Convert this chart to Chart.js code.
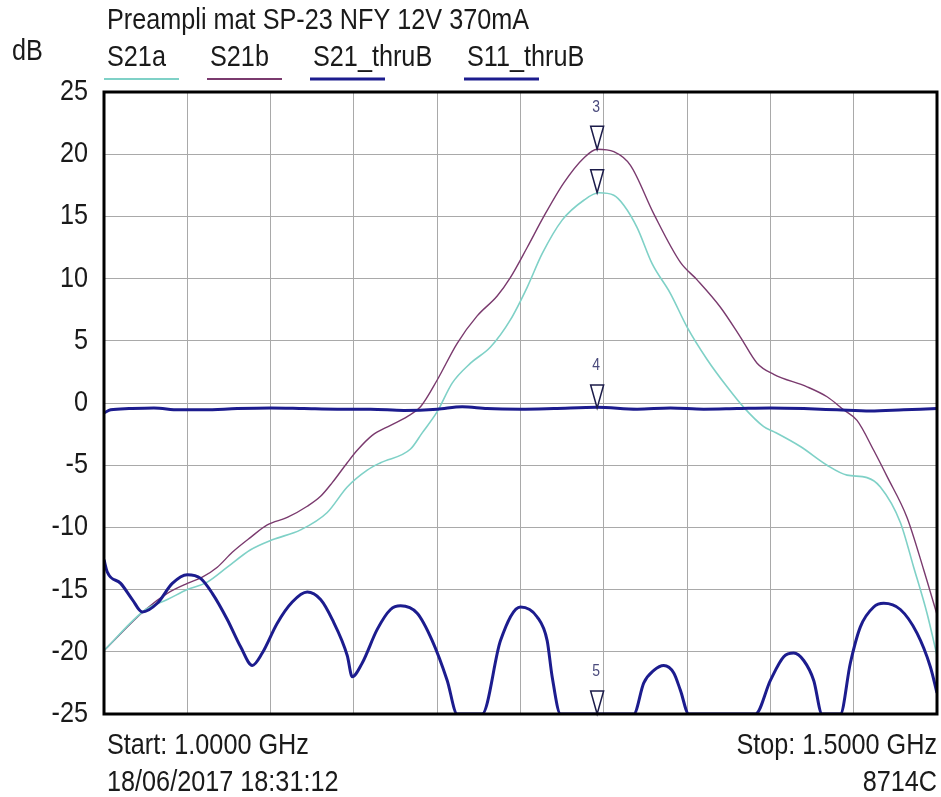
<!DOCTYPE html>
<html lang="en">
<head>
<meta charset="UTF-8">
<title>Preampli mat SP-23 NFY 12V 370mA</title>
<script src="https://cdn.jsdelivr.net/npm/chart.js"></script>
<style>
    body { margin: 0; background: #fff; }
    #wrap { width: 941px; height: 797px; }
</style>
</head>
<body>
<div id="wrap"><canvas id="vna" width="941" height="797"></canvas></div>
<script>
// frequencies in MHz, levels in dB
const freqA = [1000,1025,1038,1050,1062,1074,1088,1101,1118,1134,1146,1158,1166,1184,1191,1200,1209,1220,1232,1244,1254,1263,1275,1288,1297,1306,1312,1320,1329,1340,1350,1362,1374,1384,1396,1402,1418,1434,1446,1458,1466,1478,1486,1494,1500];
const s21a = [-19.9,-16.6,-15.8,-15.0,-14.4,-13.2,-11.8,-11.0,-10.2,-8.8,-6.75,-5.4,-4.8,-3.7,-2.4,-0.7,1.6,3.2,4.5,6.7,9.3,12.0,14.7,16.3,16.9,16.7,15.9,14.1,11.2,8.8,6.1,3.5,1.3,-0.35,-1.9,-2.3,-3.5,-5.0,-5.8,-6.0,-6.75,-9.6,-13.2,-16.9,-20.3];

const freqB = [1000,1025,1038,1050,1059,1068,1077,1088,1098,1110,1122,1130,1137,1146,1152,1161,1172,1182,1190,1200,1212,1224,1236,1244,1254,1264,1276,1288,1296,1306,1316,1330,1346,1356,1370,1382,1392,1402,1422,1434,1444,1452,1462,1470,1482,1492,1500];
const s21b = [-19.9,-16.6,-15.3,-14.5,-14.0,-13.2,-12.0,-10.8,-9.8,-9.2,-8.3,-7.5,-6.4,-4.8,-3.8,-2.6,-1.8,-1.1,-0.3,1.85,4.8,7.0,8.6,10.1,12.5,15.0,17.7,19.7,20.4,20.2,19.1,15.2,11.3,9.9,7.7,5.3,3.2,2.3,1.3,0.5,-0.55,-1.4,-3.8,-5.9,-9.2,-13.4,-17.0];

const freqT = [1000,1004,1015,1030,1045,1060,1080,1100,1120,1140,1160,1180,1200,1215,1230,1250,1270,1296,1320,1340,1360,1380,1400,1420,1440,1460,1480,1500];
const s21thru = [-0.8,-0.55,-0.45,-0.4,-0.55,-0.55,-0.45,-0.4,-0.45,-0.5,-0.5,-0.6,-0.5,-0.3,-0.45,-0.5,-0.45,-0.35,-0.5,-0.4,-0.5,-0.45,-0.4,-0.45,-0.55,-0.65,-0.55,-0.45];

const freq11 = [1000,1002,1010,1017,1023,1032,1041,1050,1058,1065,1074,1082,1089,1095,1104,1113,1122,1130,1137,1146,1149,1155,1164,1172,1178,1188,1197,1206,1212,1227,1238,1250,1260,1266,1269,1274,1318,1324,1330,1336,1342,1346,1351,1391,1400,1408,1414,1420,1426,1431,1442,1448,1454,1462,1468,1478,1488,1496,1500];
const s11thru = [-12.6,-13.6,-14.5,-15.8,-16.8,-16.1,-14.5,-13.8,-14.1,-15.3,-17.4,-19.6,-21.1,-20.1,-17.7,-16.0,-15.2,-15.8,-17.4,-20.3,-22.0,-20.9,-18.2,-16.6,-16.3,-16.9,-19.1,-22.3,-25,-25,-19.1,-16.4,-17.2,-19.1,-22.0,-25,-25,-22.5,-21.5,-21.1,-21.7,-23.1,-25,-25,-22.3,-20.4,-20.1,-20.7,-22.3,-25,-25,-20.9,-18.0,-16.4,-16.1,-16.6,-18.5,-21.2,-23.3];

const markerFreq = [1296, 1296, 1296, 1296];
const markerValues = [20.4, 16.9, -0.4, -25];
const markerLabels = ['3', '', '4', '5'];

const yTickValues = [25, 20, 15, 10, 5, 0, -5, -10, -15, -20, -25];

const titleText = 'Preampli mat SP-23 NFY 12V 370mA';
const footer = ['Start: 1.0000 GHz', 'Stop: 1.5000 GHz', '18/06/2017 18:31:12', '8714C'];

function pts(xs, ys) {
    return xs.map((x, i) => ({ x: x, y: ys[i] }));
}

// narrow looking text, like the analyser software
function txt(ctx, s, x, y, align, size, color) {
    ctx.save();
    ctx.font = size + 'px "Liberation Sans", Arial, sans-serif';
    ctx.fillStyle = color || '#1a1a1a';
    ctx.textAlign = align;
    ctx.textBaseline = 'middle';
    ctx.translate(x, y);
    ctx.scale(0.87, 1);
    ctx.fillText(s, 0, 0);
    ctx.restore();
}

const decor = {
    id: 'decor',
    afterDatasetsDraw(chart) {
        const ctx = chart.ctx, a = chart.chartArea;
        const xs = chart.scales.x, ys = chart.scales.y;

        // markers
        markerFreq.forEach((f, i) => {
            const px = xs.getPixelForValue(f);
            const py = Math.min(ys.getPixelForValue(markerValues[i]), a.bottom);
            ctx.save();
            ctx.beginPath();
            ctx.moveTo(px, py);
            ctx.lineTo(px - 6.5, py - 23);
            ctx.lineTo(px + 6.5, py - 23);
            ctx.closePath();
            ctx.fillStyle = '#fff';
            ctx.fill();
            ctx.lineWidth = 1.5;
            ctx.strokeStyle = '#1c1c4a';
            ctx.stroke();
            ctx.restore();
            if (markerLabels[i]) txt(ctx, markerLabels[i], px - 1, py - 42, 'center', 16, '#4a4a7c');
        });

        // frame
        ctx.save();
        ctx.lineWidth = 3;
        ctx.strokeStyle = '#000';
        ctx.strokeRect(a.left, a.top, a.right - a.left, a.bottom - a.top);
        ctx.restore();
    },
    afterDraw(chart) {
        const ctx = chart.ctx, a = chart.chartArea;
        const ys = chart.scales.y;

        yTickValues.forEach(v => {
            txt(ctx, String(v), 88, ys.getPixelForValue(v), 'right', 29);
        });

        txt(ctx, titleText, 107, 21, 'left', 29);
        txt(ctx, 'dB', 12, 52, 'left', 29);

        // legend: name above a coloured line
        const legX = [107, 210, 313, 467];
        chart.data.datasets.forEach((ds, i) => {
            txt(ctx, ds.label, legX[i], 58, 'left', 29);
            ctx.save();
            ctx.strokeStyle = ds.borderColor;
            ctx.lineWidth = ds.borderWidth > 2 ? 3 : 2;
            ctx.beginPath();
            ctx.moveTo(legX[i] - 3, 79);
            ctx.lineTo(legX[i] + 72, 79);
            ctx.stroke();
            ctx.restore();
        });

        txt(ctx, footer[0], 107, 746, 'left', 29);
        txt(ctx, footer[1], a.right, 746, 'right', 29);
        txt(ctx, footer[2], 107, 783, 'left', 29);
        txt(ctx, footer[3], a.right, 783, 'right', 29);
    }
};

new Chart(document.getElementById('vna'), {
    type: 'line',
    data: {
        datasets: [
            { label: 'S21a', data: pts(freqA, s21a), borderColor: '#7fd1c7', borderWidth: 1.6, order: 2 },
            { label: 'S21b', data: pts(freqB, s21b), borderColor: '#7a3a6e', borderWidth: 1.4, order: 2 },
            { label: 'S21_thruB', data: pts(freqT, s21thru), borderColor: '#1c1c8e', borderWidth: 3, order: 1 },
            { label: 'S11_thruB', data: pts(freq11, s11thru), borderColor: '#1c1c8e', borderWidth: 3, order: 1 }
        ]
    },
    options: {
        responsive: false,
        animation: false,
        events: [],
        layout: { padding: { left: 104, right: 4, top: 92, bottom: 83 } },
        elements: {
            point: { radius: 0 },
            line: { cubicInterpolationMode: 'monotone', fill: false }
        },
        scales: {
            x: {
                type: 'linear', min: 1000, max: 1500,
                ticks: { display: false, stepSize: 50 },
                grid: { color: '#a9a9a9', lineWidth: 1, drawTicks: false },
                border: { display: false },
                afterFit(scale) { scale.height = 0; }
            },
            y: {
                min: -25, max: 25,
                ticks: { display: false, stepSize: 5 },
                grid: { color: '#a9a9a9', lineWidth: 1, drawTicks: false },
                border: { display: false },
                afterFit(scale) { scale.width = 0; }
            }
        },
        plugins: {
            legend: { display: false },
            tooltip: { enabled: false }
        }
    },
    plugins: [decor]
});
</script>
</body>
</html>
